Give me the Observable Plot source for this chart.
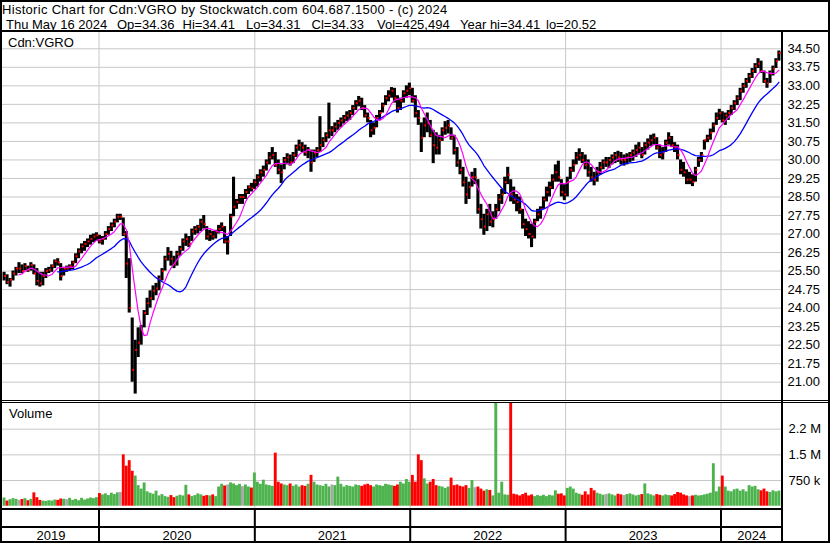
<!DOCTYPE html>
<html>
<head>
<meta charset="utf-8">
<script src="https://cdn.jsdelivr.net/npm/d3@7"></script>
<script src="https://cdn.jsdelivr.net/npm/@observablehq/plot@0.6"></script>
<style>
  body { margin: 0; background: #fff; }
  #chart { position: relative; width: 830px; height: 543px; overflow: hidden; background: #fff;
           font-family: "Liberation Sans", Arial, sans-serif; color: #000; }
  .t { position: absolute; font-size: 13px; line-height: 13px; white-space: pre; }
  .ln { position: absolute; background: #000; }
  .pl { position: absolute; left: 0; }
  .pl svg { display: block; max-width: none !important; background: transparent !important; }
</style>
</head>
<body>
<div id="chart"></div>
<script>
// ---------- DATA (weekly; weeks ending Thursday 2019-05-23 .. 2024-05-16) ----------
const hi = [
  25.45,25.35,25.2,25.5,25.65,25.84,25.75,25.8,25.7,25.84,
  25.75,25.6,25.45,25.45,25.6,25.65,25.75,25.95,26.0,25.8,
  25.65,25.7,25.75,25.9,26.2,26.4,26.6,26.7,26.8,26.95,
  27.0,27.05,26.95,26.9,27.1,27.3,27.45,27.6,27.8,27.8,
  27.65,27.1,26.0,23.6,22.7,23.2,23.3,23.9,24.4,24.7,
  24.9,25.0,25.3,25.6,26.1,26.45,26.3,26.1,26.3,26.5,
  26.8,27.0,26.9,27.2,27.3,27.35,27.6,27.75,27.3,27.15,
  27.1,27.15,27.35,27.45,27.3,26.9,27.8,29.3,28.4,28.6,
  28.6,28.8,28.95,29.05,29.2,29.4,29.6,29.75,30.0,30.3,
  30.5,30.3,30.0,29.8,30.1,30.25,30.2,30.3,30.6,30.8,
  30.7,30.6,30.5,30.4,30.4,30.5,31.75,30.9,31.1,32.3,
  31.35,31.5,31.6,31.7,31.8,31.95,32.0,32.2,32.4,32.57,
  32.5,32.2,31.9,31.6,31.5,31.8,32.0,32.3,32.6,32.8,
  32.93,32.9,32.6,32.5,32.8,33.0,33.11,32.9,32.6,32.0,
  31.5,31.7,31.9,31.6,31.2,31.1,31.0,31.3,31.55,31.6,
  31.3,31.0,30.5,30.0,29.7,29.3,29.1,29.5,29.65,29.2,
  28.2,27.8,28.0,28.2,27.9,28.2,28.6,28.8,29.3,29.7,
  29.2,28.9,28.6,28.5,28.0,27.6,27.5,27.4,27.6,28.0,
  28.1,28.5,28.9,29.1,29.4,29.8,29.95,29.2,29.0,29.3,
  29.7,30.0,30.3,30.45,30.3,30.2,30.0,29.7,29.5,29.7,
  29.9,30.0,30.1,30.1,30.2,30.3,30.35,30.3,30.2,30.25,
  30.3,30.4,30.6,30.7,30.5,30.7,30.85,31.0,31.05,30.9,
  30.6,30.5,30.8,31.1,30.95,30.7,30.6,30.0,29.9,29.6,
  29.5,29.4,29.7,30.1,30.3,30.8,31.0,31.25,31.5,31.9,
  32.05,31.95,31.9,32.0,32.2,32.4,32.6,32.9,33.1,33.3,
  33.5,33.7,33.9,34.1,34.0,33.6,33.3,33.6,33.8,34.1,34.41
];
const lo = [
  25.1,24.95,24.85,25.1,25.3,25.4,25.4,25.5,25.45,25.5,
  25.35,24.9,24.85,24.9,25.2,25.4,25.45,25.6,25.7,25.1,
  25.3,25.45,25.5,25.55,25.8,26.0,26.2,26.3,26.45,26.55,
  26.65,26.7,26.6,26.55,26.75,26.95,27.1,27.25,27.45,27.55,
  26.9,25.2,23.8,21.0,20.52,22.0,22.5,23.2,23.7,24.0,
  24.3,24.5,24.7,25.1,25.5,25.9,25.7,25.6,25.7,26.1,
  26.3,26.5,26.45,26.7,26.95,27.0,27.1,27.2,26.75,26.7,
  26.75,26.8,27.0,27.1,26.6,26.15,26.9,27.7,28.0,28.2,
  28.2,28.4,28.6,28.7,28.8,28.9,29.1,29.3,29.55,29.8,
  30.0,29.7,29.4,29.05,29.6,29.8,29.75,29.85,30.1,30.35,
  30.3,30.15,30.05,29.5,29.9,30.1,30.3,30.5,30.7,30.85,
  30.95,31.1,31.2,31.3,31.45,31.55,31.6,31.8,32.0,32.15,
  32.0,31.7,31.5,30.9,31.0,31.3,31.6,31.9,32.2,32.35,
  32.5,32.3,31.9,32.0,32.3,32.5,32.6,32.3,31.7,31.4,
  30.3,30.9,31.1,30.9,29.85,30.2,30.2,30.75,31.0,31.05,
  30.8,30.2,29.7,29.4,28.9,28.2,28.4,28.9,29.0,27.8,
  27.2,26.95,27.1,27.3,27.25,27.6,27.9,28.2,28.6,29.0,
  28.3,28.2,27.9,27.8,27.2,26.9,26.8,26.45,26.8,27.5,
  27.6,28.0,28.3,28.5,28.8,29.1,29.1,28.5,28.35,28.5,
  29.2,29.5,29.8,29.95,29.85,29.6,29.3,29.1,28.95,29.1,
  29.4,29.6,29.7,29.65,29.8,29.85,29.9,29.8,29.75,29.8,
  29.9,29.95,30.1,30.2,30.05,30.2,30.4,30.55,30.6,30.4,
  30.05,30.0,30.3,30.6,30.5,30.3,30.0,29.4,29.3,29.0,
  29.0,28.92,29.1,29.7,29.9,30.4,30.7,30.8,31.1,31.4,
  31.6,31.5,31.4,31.6,31.8,32.0,32.2,32.4,32.7,32.9,
  33.1,33.3,33.5,33.7,33.5,33.1,32.9,33.1,33.4,33.7,34.0
];
const close = [
  25.3,25.05,25.15,25.4,25.6,25.6,25.5,25.7,25.55,25.75,
  25.4,25.1,25.0,25.3,25.5,25.55,25.7,25.9,25.85,25.3,
  25.6,25.6,25.7,25.85,26.1,26.3,26.5,26.6,26.7,26.8,
  26.9,26.95,26.7,26.8,27.0,27.2,27.35,27.5,27.7,27.7,
  27.0,25.8,24.0,21.5,22.3,22.6,23.1,23.8,24.2,24.4,
  24.7,24.8,25.2,25.5,26.0,26.2,26.0,25.8,26.2,26.4,
  26.7,26.8,26.6,27.1,27.2,27.3,27.5,27.4,26.9,27.0,
  26.9,27.1,27.2,27.3,26.7,26.7,27.7,28.1,28.3,28.5,
  28.5,28.7,28.9,28.85,29.1,29.3,29.5,29.6,29.9,30.1,
  30.2,29.8,29.6,29.5,30.0,30.1,29.9,30.2,30.5,30.6,
  30.5,30.3,30.4,29.9,30.3,30.4,30.6,30.8,31.0,31.2,
  31.2,31.35,31.5,31.6,31.7,31.8,31.9,32.1,32.3,32.4,
  32.1,31.8,31.7,31.2,31.3,31.7,31.9,32.2,32.5,32.6,
  32.8,32.5,32.1,32.4,32.7,32.8,32.9,32.4,31.9,31.7,
  30.9,31.4,31.5,31.0,30.6,30.5,30.8,31.2,31.3,31.4,
  30.9,30.4,29.9,29.6,29.1,28.6,28.9,29.3,29.3,28.0,
  27.6,27.3,27.8,27.5,27.6,28.0,28.4,28.6,29.1,29.4,
  28.6,28.4,28.3,28.0,27.4,27.2,27.0,26.9,27.5,27.8,
  28.0,28.4,28.7,28.9,29.2,29.5,29.3,28.7,28.6,29.1,
  29.6,29.8,30.1,30.2,30.0,29.8,29.5,29.3,29.2,29.5,
  29.7,29.9,29.9,30.0,30.1,30.2,30.1,30.0,30.0,30.1,
  30.2,30.3,30.4,30.5,30.2,30.6,30.7,30.8,30.9,30.5,
  30.2,30.3,30.7,30.9,30.6,30.5,30.2,29.6,29.5,29.2,
  29.2,29.1,29.6,30.0,30.2,30.8,30.9,31.1,31.4,31.7,
  31.9,31.6,31.8,31.9,32.1,32.3,32.5,32.8,33.0,33.2,
  33.4,33.6,33.8,33.9,33.6,33.2,33.1,33.5,33.7,34.0,34.33
];
// typical daily volume per week, thousands of units
const volK = [
  240,150,190,220,200,170,195,220,160,200,
  390,250,170,150,140,160,150,180,170,210,
  200,190,230,170,200,160,230,180,210,240,
  220,250,370,330,360,310,380,340,390,400,
  1500,1170,1330,1020,880,600,500,680,420,380,
  350,440,300,340,280,260,310,250,290,320,
  300,610,330,280,310,360,330,290,310,300,
  330,280,560,640,590,620,680,650,600,640,
  570,620,560,530,970,700,640,760,620,600,
  580,1550,700,650,620,600,650,580,620,560,
  600,580,640,900,700,620,600,580,640,560,
  620,600,850,640,560,600,580,560,620,600,
  580,620,640,600,560,620,600,580,640,620,
  600,580,620,700,650,780,700,900,700,1500,
  1330,800,650,700,780,600,580,560,520,560,
  820,600,620,580,560,600,520,750,540,560,
  500,440,480,460,300,3100,380,700,330,320,
  3100,350,330,300,340,380,300,330,280,310,
  290,320,280,320,300,450,350,360,300,520,
  560,500,380,350,320,420,330,520,450,380,
  350,320,340,360,330,300,350,330,310,340,
  360,330,300,320,340,650,360,330,300,340,
  320,300,330,310,300,340,400,380,330,300,
  280,300,320,300,310,330,350,380,1240,420,
  560,880,560,440,420,480,500,440,480,420,
  600,560,580,480,450,500,420,400,450,420,440
];
const priceTicks = [21.00,21.75,22.50,23.25,24.00,24.75,25.50,26.25,27.00,27.75,28.50,29.25,30.00,30.75,31.50,32.25,33.00,33.75,34.50];
const volTicks = [750000, 1500000, 2250000];
const volTickLabels = ["750 k", "1.5 M", "2.2 M"];
const yearStarts = ["2020-01-01","2021-01-01","2022-01-01","2023-01-01","2024-01-01"];
const yearLabels = ["2019","2020","2021","2022","2023","2024"];
const yearLabelDates = ["2019-09-10","2020-07-02","2021-07-02","2022-07-02","2023-07-02","2024-03-13"];
const maShortWeeks = 6, maLongWeeks = 19;
const headerLine1 = "Historic Chart for Cdn:VGRO by Stockwatch.com 604.687.1500 - (c) 2024";
const headerItems = [["Thu May 16 2024", 6], ["Op=34.36", 117], ["Hi=34.41", 182.5], ["Lo=34.31", 246],
                     ["Cl=34.33", 311.5], ["Vol=425,494", 377], ["Year hi=34.41", 460], ["lo=20.52", 546]];

// ---------- build ----------
const dates = d3.utcThursday.range(new Date(Date.UTC(2019, 4, 23)), new Date(Date.UTC(2024, 4, 17)));
const rows = dates.map((date, i) => ({
  date, hi: hi[i], lo: lo[i], close: close[i], vol: volK[i] * 1000,
  dir: i === 0 ? 1 : Math.sign(Math.round((close[i] - close[i - 1]) * 100))
}));
const ys = yearStarts.map(d => new Date(d));
const FONT = '"Liberation Sans", Arial, sans-serif';
const xScale = { type: "utc", domain: [new Date("2020-01-01"), new Date("2024-01-01")], range: [98.5, 720.5] };
const GRID = "#c8c8c8";
const UP = "#4db34d", DOWN = "#ff0000", FLAT = "#a8a8a8";

const chart = document.getElementById("chart");
function add(el, cls, css) { const d = document.createElement("div"); d.className = cls; Object.assign(d.style, css); if (el) d.textContent = el; chart.appendChild(d); return d; }

// price panel
const price = Plot.plot({
  width: 830, height: 368, marginLeft: 2, marginRight: 48, marginTop: 0, marginBottom: 0,
  style: { fontFamily: FONT, fontSize: "13px", color: "#000", background: "transparent", overflow: "visible" },
  x: { ...xScale, axis: null },
  y: { domain: [21, 34.5], range: [349.7, 16.3], axis: null },
  marks: [
    Plot.ruleY(priceTicks, { y: d => d, stroke: GRID, strokeWidth: 1 }),
    Plot.ruleX(ys, { x: d => d, stroke: GRID, strokeWidth: 1 }),
    Plot.ruleX(rows, { x: "date", y1: "lo", y2: "hi", stroke: "#000", strokeWidth: 3.1 }),
    Plot.dot(rows, { x: "date", y: "close", symbol: "square", r: 1.1, fill: "#ff0000", stroke: null, dx: 1 }),
    Plot.lineY(rows, Plot.windowY({ k: maLongWeeks, anchor: "end", reduce: "mean", strict: true },
      { x: "date", y: "close", stroke: "#0000ff", strokeWidth: 1.3 })),
    Plot.lineY(rows, Plot.windowY({ k: maShortWeeks, anchor: "end", reduce: "mean", strict: true },
      { x: "date", y: "close", stroke: "#ff00ff", strokeWidth: 1.2 })),
    Plot.axisY(priceTicks, { anchor: "right", tickSize: 0, tickPadding: 5, tickFormat: d3.format(".2f"),
      label: null, fill: "#000", fontSize: 13 })
  ]
});
const pDiv = add(null, "pl", { top: "32px" }); pDiv.appendChild(price);

// volume panel
const volume = Plot.plot({
  width: 830, height: 106, marginLeft: 2, marginRight: 48, marginTop: 0, marginBottom: 0,
  style: { fontFamily: FONT, fontSize: "13px", color: "#000", background: "transparent", overflow: "visible" },
  x: { ...xScale, axis: null },
  y: { domain: [0, 3000000], range: [102.7, 0], axis: null },
  marks: [
    Plot.ruleY(volTicks, { y: d => d, stroke: GRID, strokeWidth: 1 }),
    Plot.ruleX(ys, { x: d => d, stroke: GRID, strokeWidth: 1 }),
    Plot.ruleX(rows, { x: "date", y1: "vol", stroke: d => d.dir > 0 ? UP : d.dir < 0 ? DOWN : FLAT,
      strokeWidth: 2.9, clip: true }),
    Plot.axisY(volTicks, { anchor: "right", tickSize: 0, tickPadding: 6,
      tickFormat: d => volTickLabels[volTicks.indexOf(d)], label: null, fill: "#000", fontSize: 13 })
  ]
});
const vDiv = add(null, "pl", { top: "403px" }); vDiv.appendChild(volume);

// year band
const band = Plot.plot({
  width: 830, height: 34, marginLeft: 2, marginRight: 48, marginTop: 0, marginBottom: 0,
  style: { fontFamily: FONT, fontSize: "13px", color: "#000", background: "transparent", overflow: "visible" },
  x: { ...xScale, axis: null },
  y: { domain: [0, 34], range: [0, 34], axis: null },
  marks: [
    Plot.ruleX(ys, { x: d => d, stroke: "#000", strokeWidth: 2 }),
    Plot.text(yearLabels, { x: (d, i) => new Date(yearLabelDates[i]), y: 26.5, text: d => d,
      fill: "#000", fontSize: 13 })
  ]
});
const bDiv = add(null, "pl", { top: "509px" }); bDiv.appendChild(band);

// frame and separators
add(null, "ln", { left: "0px", top: "0px", width: "830px", height: "2px" });
add(null, "ln", { left: "0px", top: "541px", width: "830px", height: "2px" });
add(null, "ln", { left: "0px", top: "0px", width: "2px", height: "543px" });
add(null, "ln", { left: "828px", top: "0px", width: "2px", height: "543px" });
add(null, "ln", { left: "0px", top: "30px", width: "830px", height: "2px" });
add(null, "ln", { left: "781px", top: "30px", width: "2px", height: "513px" });
add(null, "ln", { left: "0px", top: "400px", width: "830px", height: "1px" });
add(null, "ln", { left: "0px", top: "402px", width: "830px", height: "1px" });
add(null, "ln", { left: "0px", top: "508px", width: "782px", height: "2px" });
add(null, "ln", { left: "0px", top: "526px", width: "782px", height: "2px" });

// texts
add(headerLine1, "t", { left: "2px", top: "3px", letterSpacing: "0.3px" });
headerItems.forEach(([s, x]) => add(s, "t", { left: x + "px", top: "18px" }));
add("Cdn:VGRO", "t", { left: "8px", top: "35.5px" });
add("Volume", "t", { left: "9px", top: "407px" });
</script>
</body>
</html>
